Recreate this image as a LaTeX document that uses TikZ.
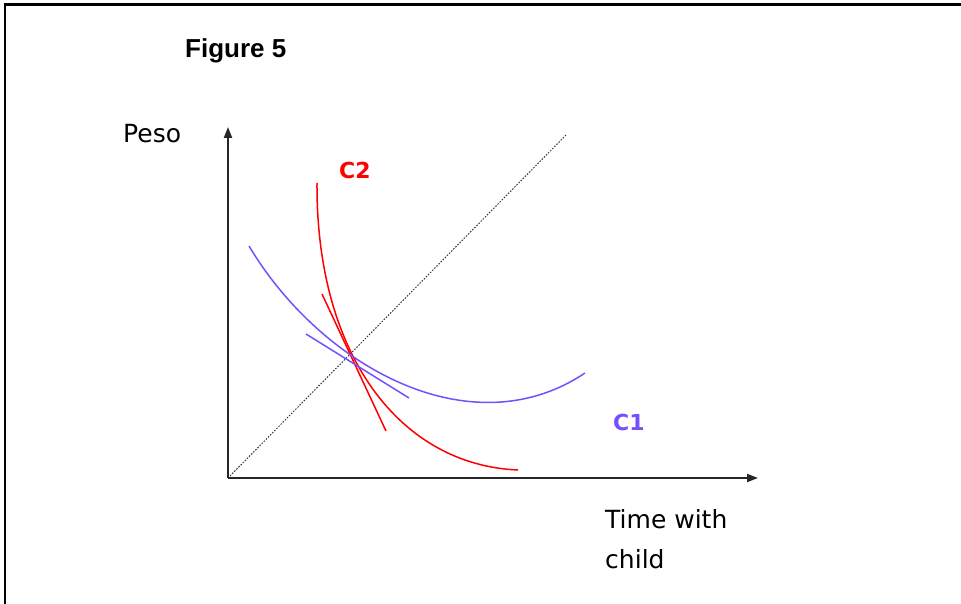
\documentclass[tikz,border=0pt]{standalone}
\usepackage{fontspec}
\setmainfont{DejaVu Sans}
\newfontfamily\figfont{Liberation Sans}
\usetikzlibrary{arrows.meta}
\definecolor{cred}{RGB}{255,0,0}
\definecolor{cblue}{RGB}{115,80,255}
\begin{document}
\begin{tikzpicture}[x=1pt,y=-1pt,
  frameline/.style={line width=2.5pt,black},
  axis/.style={line width=2pt,black!85,-{Triangle[length=11pt,width=8pt]}},
  diag/.style={line width=1pt,black!80,dash pattern=on 1.5pt off 1.5pt},
  redcurve/.style={line width=1.5pt,cred},
  bluecurve/.style={line width=1.5pt,cblue},
  lbl/.style={inner sep=0pt,font=\fontsize{25}{40}\selectfont},
  clbl/.style={inner sep=0pt,font=\fontsize{22}{26}\selectfont\bfseries}]
\useasboundingbox (0,0) rectangle (961,604);
\draw[frameline] (5,604) -- (5,4.5) -- (961,4.5);
\node[inner sep=0pt,anchor=base west,font=\figfont\fontsize{26}{30}\selectfont\bfseries] (title) at (185,58) {Figure 5};
\coordinate (O) at (228,478);
\coordinate (ytip) at (228,127);
\coordinate (xtip) at (758,478);
\coordinate (dend) at (567,134);
\draw[diag] (O) -- (dend);
\draw[axis] (O) -- (ytip);
\draw[axis] (O) -- (xtip);
\node[lbl,anchor=base west] (peso) at (123,143) {Peso};
\node[lbl,anchor=base west,align=left] (time) at (605,568) {Time with\\child};
\node[clbl,text=cred,anchor=base west] (c2) at (339,179) {C2};
\node[clbl,text=cblue,anchor=base west] (c1) at (613,430) {C1};
% C2 curve and its tangent
\coordinate (r0) at (317,183);
\coordinate (r3) at (518,470);
\draw[redcurve] (r0) .. controls (316,355) and (400,465) .. (r3);
\coordinate (rt0) at (322,294);
\coordinate (rt1) at (386,431);
\draw[redcurve] (rt0) -- (rt1);
% C1 curve and its tangent
\coordinate (b0) at (249,246);
\coordinate (b3) at (585,373);
\draw[bluecurve] (b0) .. controls (320,365) and (470,450) .. (b3);
\coordinate (bt0) at (306,334);
\coordinate (bt1) at (409,398);
\draw[bluecurve] (bt0) -- (bt1);
\end{tikzpicture}
\end{document}
